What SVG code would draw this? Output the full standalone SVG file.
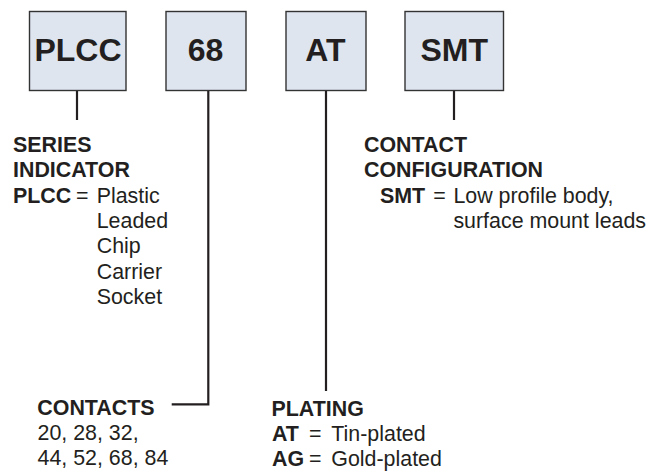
<svg xmlns="http://www.w3.org/2000/svg" width="662" height="472" viewBox="0 0 662 472">
<style>
.box{fill:#dfe5ef;stroke:#333333;stroke-width:1.4}
.bt{font-family:"Liberation Sans",Arial,sans-serif;font-weight:bold;font-size:32px;fill:#231f20;text-anchor:middle}
.b{font-family:"Liberation Sans",Arial,sans-serif;font-weight:bold;font-size:21.4px;fill:#231f20}
.r{font-family:"Liberation Sans",Arial,sans-serif;font-size:21.4px;fill:#231f20}
.ln{fill:none;stroke:#231f20;stroke-width:2.2}
</style>
<rect width="662" height="472" fill="#ffffff"/>
<g id="node-plcc">
<rect class="box" x="29.5" y="11.5" width="96.5" height="79"/>
<text class="bt" x="78" y="60.5">PLCC</text>
</g>
<g id="node-68">
<rect class="box" x="166" y="11.5" width="80" height="79"/>
<text class="bt" x="205.5" y="60.5">68</text>
</g>
<g id="node-at">
<rect class="box" x="286" y="11.5" width="80" height="79"/>
<text class="bt" x="325.5" y="60.5">AT</text>
</g>
<g id="node-smt">
<rect class="box" x="405" y="11.5" width="98.5" height="79"/>
<text class="bt" x="454.3" y="60.5">SMT</text>
</g>
<g id="connectors">
<path class="ln" d="M77 91 V120"/>
<path class="ln" d="M208.3 91 V404.3 H171.7"/>
<path class="ln" d="M326 91 V391"/>
<path class="ln" d="M454 91 V120"/>
</g>
<g id="label-series">
<text class="b" x="13" y="151.7">SERIES</text>
<text class="b" x="13" y="177.3">INDICATOR</text>
<text class="b" x="13" y="202.7">PLCC</text>
<text class="r" x="76" y="202.7">=</text>
<text class="r" x="96.7" y="202.7">Plastic</text>
<text class="r" x="96.7" y="228.3">Leaded</text>
<text class="r" x="96.7" y="253.3">Chip</text>
<text class="r" x="96.7" y="279">Carrier</text>
<text class="r" x="96.7" y="304">Socket</text>
</g>
<g id="label-contact-config">
<text class="b" x="364" y="151.7">CONTACT</text>
<text class="b" x="364" y="177.3">CONFIGURATION</text>
<text class="b" x="380" y="202.7">SMT</text>
<text class="r" x="433.3" y="202.7">=</text>
<text class="r" x="453.4" y="202.7">Low profile body,</text>
<text class="r" x="453.4" y="228.3">surface mount leads</text>
</g>
<g id="label-contacts">
<text class="b" x="37.3" y="415">CONTACTS</text>
<text class="r" x="37.5" y="440">20, 28, 32,</text>
<text class="r" x="37.5" y="465">44, 52, 68, 84</text>
</g>
<g id="label-plating">
<text class="b" x="271.5" y="416">PLATING</text>
<text class="b" x="272" y="441">AT</text>
<text class="r" x="309" y="441">=</text>
<text class="r" x="331.3" y="441">Tin-plated</text>
<text class="b" x="272" y="466">AG</text>
<text class="r" x="309" y="466">=</text>
<text class="r" x="331.3" y="466">Gold-plated</text>
</g>
</svg>
